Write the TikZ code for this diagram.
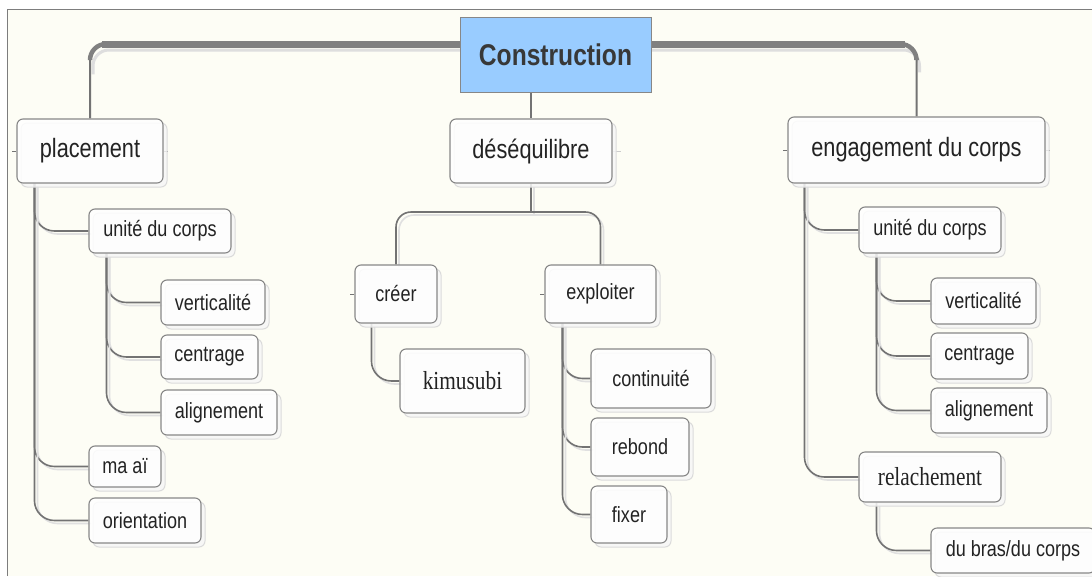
\documentclass[tikz,border=0pt]{standalone}
\usepackage{fontspec}
\setmainfont{Liberation Sans}
\newfontfamily\sansc[FakeStretch=0.82]{Liberation Sans}
\newfontfamily\serifc[FakeStretch=0.82]{Liberation Serif}
\usetikzlibrary{shadows,calc}
\definecolor{cream}{RGB}{253,253,245}
\definecolor{framegray}{RGB}{125,125,125}
\definecolor{linegray}{RGB}{115,115,115}
\definecolor{boxgray}{RGB}{135,135,135}
\definecolor{rootblue}{RGB}{153,204,255}
\definecolor{txt}{RGB}{35,35,35}
\pgfdeclarelayer{back}
\pgfdeclarelayer{bg}
\pgfsetlayers{back,bg,main}
\tikzset{
 mbox/.style={draw=boxgray, line width=1.1pt, rounded corners=6pt, fill=white, fill opacity=0.85, text opacity=1, text=txt, inner sep=0pt,
   general shadow={shadow xshift=4pt, shadow yshift=-4pt, draw=black!14, fill=black!3, line width=1pt}},
 lvone/.style={mbox, font=\sansc\fontsize{26.5}{30}\selectfont},
 lvtwo/.style={mbox, font=\sansc\fontsize{22}{26}\selectfont},
 lvser/.style={mbox, font=\serifc\fontsize{26}{30}\selectfont},
 rootbox/.style={draw=boxgray, line width=1pt, fill=rootblue, text=black!78, inner sep=0pt, font=\sansc\bfseries\fontsize{30}{34}\selectfont},
 branch/.style={draw=linegray, line width=1.6pt, rounded corners=20pt,
   preaction={draw=black!12, line width=1.6pt, transform canvas={xshift=3pt,yshift=-3pt}}},
 tick/.style={draw=linegray, line width=1pt},
}
\begin{document}
\begin{tikzpicture}[x=1pt,y=-1pt]
\useasboundingbox (0,0) rectangle (1092,576);
\begin{pgfonlayer}{back}
\fill[white] (0,0) rectangle (1092,576);
\fill[cream] (7,9) rectangle (1092,576);
\draw[framegray, line width=1pt] (7,576) -- (7,9) -- (1092,9);
\end{pgfonlayer}

% root
\node[rootbox, minimum width=191pt, minimum height=75pt] (root) at (555.5,54.5) {Construction};
% level 1
\node[lvone, minimum width=146pt, minimum height=64pt] (placement) at (90,151) {placement};
\node[lvone, minimum width=162pt, minimum height=64pt] (deseq) at (531,151) {déséquilibre};
\node[lvone, minimum width=257pt, minimum height=66pt] (engage) at (916.5,150) {engagement du corps};
% left branch
\node[lvtwo, minimum width=142pt, minimum height=44pt] (unite1) at (160,231) {unité du corps};
\node[lvtwo, minimum width=104pt, minimum height=45pt] (vert1) at (213,302.5) {verticalité};
\node[lvtwo, minimum width=97pt, minimum height=44pt] (centr1) at (209.5,357) {centrage};
\node[lvtwo, minimum width=116pt, minimum height=45pt] (align1) at (219,412.5) {alignement};
\node[lvtwo, minimum width=72pt, minimum height=41pt] (maai) at (125,466.5) {ma aï};
\node[lvtwo, minimum width=112pt, minimum height=45pt] (orient) at (145,520.5) {orientation};
% centre branch
\node[lvtwo, minimum width=82pt, minimum height=58pt] (creer) at (396,294) {créer};
\node[lvser, minimum width=125pt, minimum height=64pt] (kimu) at (462.5,381) {kimusubi};
\node[lvtwo, minimum width=111pt, minimum height=58pt] (exploit) at (600.5,294) {exploiter};
\node[lvtwo, minimum width=120pt, minimum height=59pt] (conti) at (651,378.5) {continuité};
\node[lvtwo, minimum width=98pt, minimum height=58pt] (rebond) at (640,447) {rebond};
\node[lvtwo, minimum width=76pt, minimum height=57pt] (fixer) at (629,514.5) {fixer};
% right branch
\node[lvtwo, minimum width=142pt, minimum height=46pt] (unite2) at (930,230) {unité du corps};
\node[lvtwo, minimum width=105pt, minimum height=46pt] (vert2) at (983.5,301) {verticalité};
\node[lvtwo, minimum width=97pt, minimum height=46pt] (centr2) at (979.5,356) {centrage};
\node[lvtwo, minimum width=116pt, minimum height=45pt] (align2) at (989,410.5) {alignement};
\node[lvser, minimum width=142pt, minimum height=50pt] (relach) at (930,477) {relachement};
\node[lvtwo, minimum width=164pt, minimum height=45pt] (dubras) at (1013,550.5) {du bras/du corps};

\coordinate (busmid) at (555,44);
\coordinate (bh) at (531,212);

\begin{pgfonlayer}{bg}
% top bus
\draw[black!13, line width=3pt, rounded corners=16pt, transform canvas={xshift=3pt,yshift=-6pt}]
  ($(placement.north)+(0,-50)$) |- (busmid) -| ($(engage.north)+(0,-50)$);
\draw[linegray, line width=2pt, rounded corners=16pt] (placement.north) |- (busmid) -| (engage.north);
\draw[black!50, line width=4.5pt, rounded corners=16pt] ($(placement.north)+(0,-60)$) |- (busmid) -| ($(engage.north)+(0,-58)$);
\draw[black!50, line width=7pt] ($(placement.north |- busmid)+(12,0)$) -- ($(engage.north |- busmid)+(-12,0)$);
% root to deseq
\draw[linegray, line width=2pt] (deseq.north |- root.south) -- (deseq.north);
% deseq split
\draw[branch] (deseq.south) -- (bh);
\draw[branch, rounded corners=15pt] (creer.north) |- (bh) -| (exploit.north);
% left tree
\draw[branch] ([xshift=18pt]placement.south west) |- (unite1.west);
\draw[branch] ([xshift=18pt]placement.south west) |- (maai.west);
\draw[branch] ([xshift=18pt]placement.south west) |- (orient.west);
\draw[branch] ([xshift=18pt]unite1.south west) |- (vert1.west);
\draw[branch] ([xshift=18pt]unite1.south west) |- (centr1.west);
\draw[branch] ([xshift=18pt]unite1.south west) |- (align1.west);
% centre tree
\draw[branch] ([xshift=17pt]creer.south west) |- (kimu.west);
\draw[branch] ([xshift=18pt]exploit.south west) |- (conti.west);
\draw[branch] ([xshift=18pt]exploit.south west) |- (rebond.west);
\draw[branch] ([xshift=18pt]exploit.south west) |- (fixer.west);
% right tree
\draw[branch] ([xshift=17pt]engage.south west) |- (unite2.west);
\draw[branch] ([xshift=17pt]engage.south west) |- (relach.west);
\draw[branch] ([xshift=18pt]unite2.south west) |- (vert2.west);
\draw[branch] ([xshift=18pt]unite2.south west) |- (centr2.west);
\draw[branch] ([xshift=18pt]unite2.south west) |- (align2.west);
\draw[branch] ([xshift=18pt]relach.south west) |- (dubras.west);
% ticks
\draw[tick] (placement.west) -- ++(-4,0);
\draw[tick] (placement.east) -- ++(4,0);
\draw[tick] (engage.west) -- ++(-4,0);
\draw[tick] (engage.east) -- ++(4,0);
\draw[tick, black!20] (deseq.east) -- ++(8,0);
\draw[tick] (creer.west) -- ++(-4,0);
\draw[tick] (exploit.west) -- ++(-4,0);
\end{pgfonlayer}
\end{tikzpicture}
\end{document}
